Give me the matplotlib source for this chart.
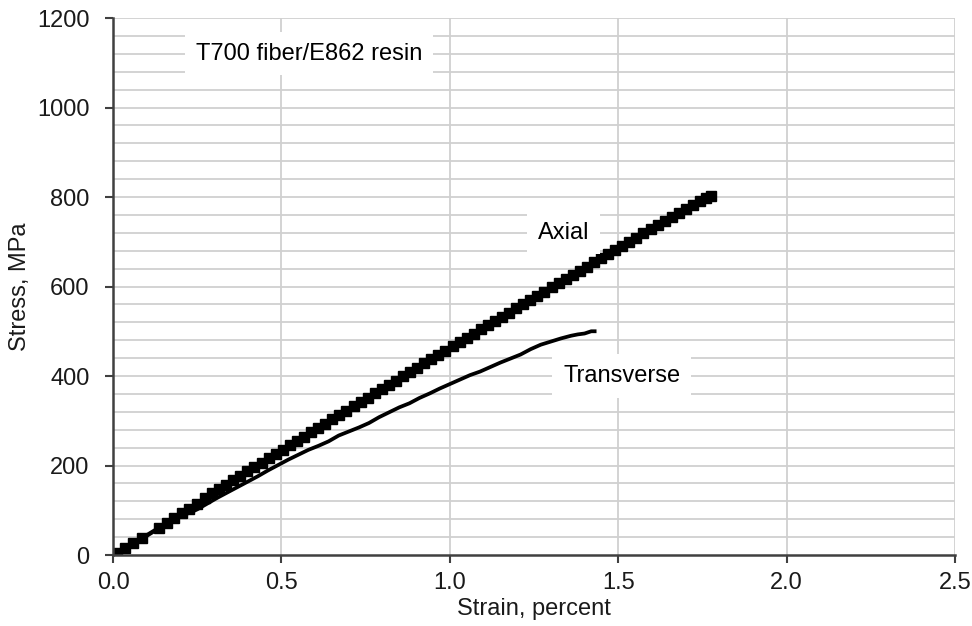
import matplotlib
matplotlib.use('Agg')
import matplotlib.pyplot as plt

plt.rcParams['font.family'] = ['Liberation Sans', 'DejaVu Sans']

# 轴向数据 (strain %, stress MPa)
axial_strain = [0.000, 0.012, 0.036, 0.060, 0.085, 0.135, 0.159, 0.180, 0.204, 0.225,
                0.248, 0.273, 0.294, 0.315, 0.336, 0.357, 0.378, 0.399, 0.420, 0.441,
                0.462, 0.483, 0.504, 0.525, 0.546, 0.567, 0.588, 0.609, 0.630, 0.651,
                0.672, 0.693, 0.714, 0.735, 0.756, 0.777, 0.798, 0.819, 0.840, 0.861,
                0.882, 0.903, 0.924, 0.945, 0.966, 0.987, 1.008, 1.029, 1.050, 1.071,
                1.092, 1.113, 1.134, 1.155, 1.176, 1.197, 1.218, 1.239, 1.260, 1.281,
                1.302, 1.323, 1.344, 1.365, 1.386, 1.407, 1.428, 1.449, 1.470, 1.491,
                1.512, 1.533, 1.554, 1.575, 1.596, 1.617, 1.638, 1.659, 1.680, 1.701,
                1.722, 1.743, 1.762, 1.775]
axial_stress = [0, 5, 16, 27, 38, 61, 72, 83, 94, 102,
                114, 127, 138, 148, 157, 167, 177, 187, 196, 206,
                216, 226, 235, 245, 255, 264, 274, 284, 293, 303,
                313, 322, 332, 342, 351, 361, 370, 380, 389, 399,
                409, 418, 428, 437, 447, 456, 466, 475, 485, 494,
                504, 513, 522, 532, 541, 551, 560, 569, 579, 588,
                598, 607, 616, 626, 635, 644, 654, 663, 672, 681,
                691, 700, 709, 719, 728, 737, 746, 756, 765, 774,
                783, 790, 798, 802]

# 横向数据
trans_strain = [0.00, 0.03, 0.06, 0.09, 0.12, 0.15, 0.18, 0.21, 0.23, 0.25,
                0.28, 0.31, 0.34, 0.37, 0.40, 0.43, 0.46, 0.49, 0.52, 0.55,
                0.58, 0.61, 0.64, 0.67, 0.70, 0.73, 0.76, 0.79, 0.82, 0.85,
                0.88, 0.91, 0.94, 0.97, 1.00, 1.03, 1.06, 1.09, 1.12, 1.15,
                1.18, 1.21, 1.24, 1.27, 1.30, 1.33, 1.36, 1.38, 1.40, 1.42, 1.43]
trans_stress = [0, 12, 25, 38, 52, 66, 80, 90, 95, 102,
                115, 128, 140, 152, 164, 176, 189, 201, 213, 224,
                235, 244, 254, 267, 276, 285, 295, 308, 319, 330,
                339, 351, 361, 372, 382, 392, 402, 410, 420, 430,
                439, 448, 460, 470, 477, 484, 490, 493, 495, 500, 500]

fig = plt.figure(figsize=(9.72, 6.26), dpi=100)
ax = fig.add_axes([0.1163, 0.1134, 0.8662, 0.8578])

# 网格
grid_c = '#d0d0d0'
for v in range(40, 1201, 40):
    ax.axhline(v, color=grid_c, lw=1.3, zorder=0)
for v in [0.5, 1.0, 1.5, 2.0, 2.5]:
    ax.axvline(v, color=grid_c, lw=1.3, zorder=0)

ax.plot(trans_strain, trans_stress, color='black', lw=2.7, zorder=3)
ax.plot(axial_strain, axial_stress, color='black', lw=2.5, marker='s', ms=7,
        mec='black', mfc='black', zorder=4)

fs = 17
box = dict(facecolor='white', edgecolor='none', boxstyle='square,pad=0.45')
ax.text(0.582, 1120, 'T700 fiber/E862 resin', fontsize=fs, ha='center', va='center',
        bbox=box, zorder=5)
ax.text(1.338, 720, 'Axial', fontsize=fs, ha='center', va='center', bbox=box, zorder=5)
ax.text(1.51, 400, 'Transverse', fontsize=fs, ha='center', va='center', bbox=box, zorder=5)

ax.set_xlim(0, 2.5)
ax.set_ylim(0, 1200)
ax.set_xticks([0.0, 0.5, 1.0, 1.5, 2.0, 2.5])
ax.set_xticklabels(['0.0', '0.5', '1.0', '1.5', '2.0', '2.5'])
ax.set_yticks(range(0, 1201, 200))

for s in ['top', 'right']:
    ax.spines[s].set_visible(False)
for s in ['left', 'bottom']:
    ax.spines[s].set_color('#404040')
    ax.spines[s].set_linewidth(1.8)
    ax.spines[s].set_zorder(6)

ax.tick_params(axis='both', direction='out', length=6, width=1.5, color='#404040',
               labelsize=fs, labelcolor='#1a1a1a')
ax.tick_params(axis='y', pad=11)
ax.tick_params(axis='x', pad=6)

ax.set_xlabel('Strain, percent', fontsize=fs, color='#1a1a1a', labelpad=3)
ax.set_ylabel('Stress, MPa', fontsize=fs, color='#1a1a1a')
ax.yaxis.set_label_coords(-0.098, 0.5)

fig.savefig('out.png', dpi=100)
